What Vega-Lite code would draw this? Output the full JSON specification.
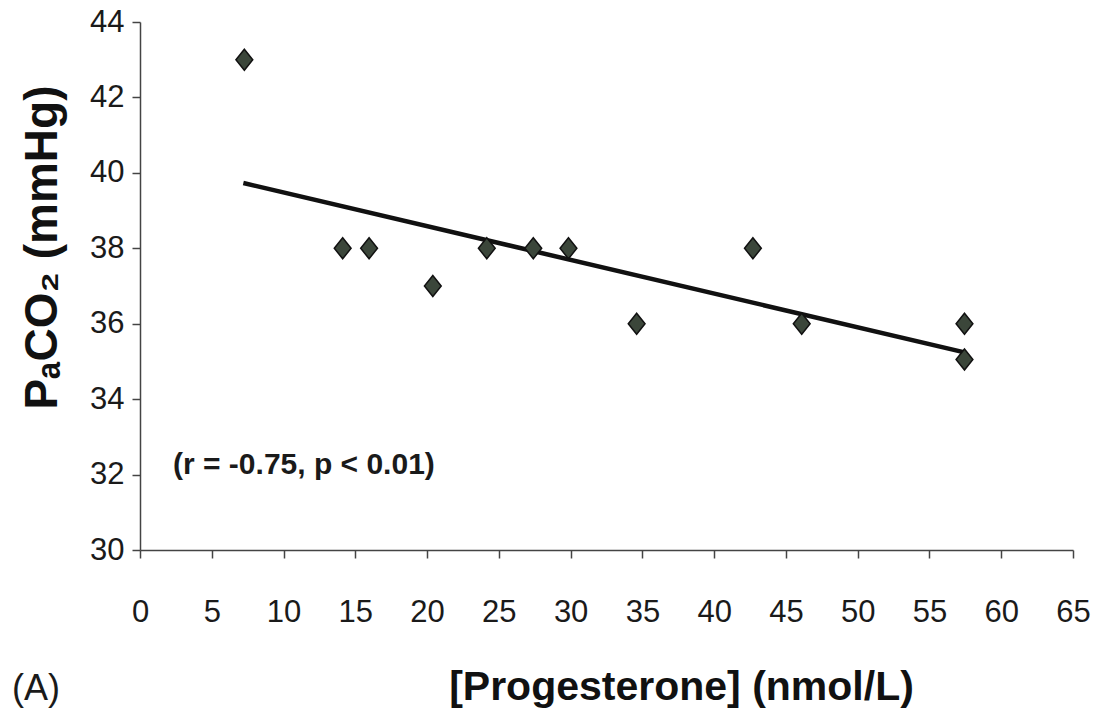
{
  "$schema": "https://vega.github.io/schema/vega-lite/v6.json",
  "width": 933,
  "height": 528,
  "padding": {"left": 140, "top": 22, "right": 28, "bottom": 160},
  "autosize": {"type": "none"},
  "background": "white",
  "config": {"view": {"stroke": null}, "font": "Liberation Sans"},
  "datasets": {
    "points": [
      {"progesterone": 7.27, "paco2": 43.0},
      {"progesterone": 14.12, "paco2": 38.0},
      {"progesterone": 15.96, "paco2": 38.0},
      {"progesterone": 20.4, "paco2": 37.0},
      {"progesterone": 24.16, "paco2": 38.0},
      {"progesterone": 27.4, "paco2": 38.0},
      {"progesterone": 29.85, "paco2": 38.0},
      {"progesterone": 34.6, "paco2": 36.0},
      {"progesterone": 42.7, "paco2": 38.0},
      {"progesterone": 46.1, "paco2": 36.0},
      {"progesterone": 57.44, "paco2": 36.0},
      {"progesterone": 57.44, "paco2": 35.05}
    ],
    "fit": [
      {"progesterone": 7.2, "paco2": 39.73},
      {"progesterone": 57.44, "paco2": 35.24}
    ],
    "note": [
      {"progesterone": 2.3, "paco2": 32.25, "label": "(r = -0.75, p < 0.01)"}
    ],
    "panel": [
      {"progesterone": -8.92, "paco2": 26.02, "label": "(A)"}
    ]
  },
  "encoding": {
    "x": {
      "field": "progesterone",
      "type": "quantitative",
      "scale": {"domain": [0, 65], "nice": false, "zero": false},
      "axis": {
        "title": "[Progesterone] (nmol/L)",
        "values": [0, 5, 10, 15, 20, 25, 30, 35, 40, 45, 50, 55, 60, 65],
        "grid": false,
        "labelFontSize": 31,
        "labelPadding": 39,
        "labelFlush": false,
        "labelOverlap": false,
        "labelColor": "#1a1a1a",
        "tickSize": 8,
        "tickColor": "#444",
        "tickWidth": 1.5,
        "domainColor": "#444",
        "domainWidth": 1.5,
        "titleFontSize": 41,
        "titleFontWeight": "bold",
        "titleColor": "#111",
        "titleX": 541,
        "titleY": 149,
        "titleBaseline": "alphabetic",
        "titleAlign": "center"
      }
    },
    "y": {
      "field": "paco2",
      "type": "quantitative",
      "scale": {"domain": [30, 44], "nice": false, "zero": false},
      "axis": {
        "title": "PₐCO₂ (mmHg)",
        "values": [30, 32, 34, 36, 38, 40, 42, 44],
        "grid": false,
        "labelFontSize": 31,
        "labelPadding": 8,
        "labelFlush": false,
        "labelOverlap": false,
        "labelColor": "#1a1a1a",
        "tickSize": 8,
        "tickColor": "#444",
        "tickWidth": 1.5,
        "domainColor": "#444",
        "domainWidth": 1.5,
        "titleFontSize": 46,
        "titleFontWeight": "bold",
        "titleColor": "#111",
        "titleAngle": -90,
        "titleX": -84,
        "titleY": 225,
        "titleBaseline": "alphabetic",
        "titleAlign": "center"
      }
    }
  },
  "layer": [
    {
      "data": {"name": "fit"},
      "mark": {"type": "line", "color": "#111", "strokeWidth": 4.5}
    },
    {
      "data": {"name": "points"},
      "mark": {
        "type": "point",
        "shape": "M0,-1L0.8,0L0,1L-0.8,0Z",
        "filled": true,
        "fill": "#3b463a",
        "stroke": "#111",
        "strokeWidth": 1.5,
        "size": 441,
        "opacity": 1
      }
    },
    {
      "data": {"name": "note"},
      "mark": {"type": "text", "align": "left", "baseline": "middle", "fontSize": 30, "fontWeight": "bold", "color": "#1a1a1a"},
      "encoding": {"text": {"field": "label"}}
    },
    {
      "data": {"name": "panel"},
      "mark": {"type": "text", "align": "left", "baseline": "alphabetic", "fontSize": 36, "color": "#1a1a1a", "clip": false},
      "encoding": {"text": {"field": "label"}}
    }
  ]
}
